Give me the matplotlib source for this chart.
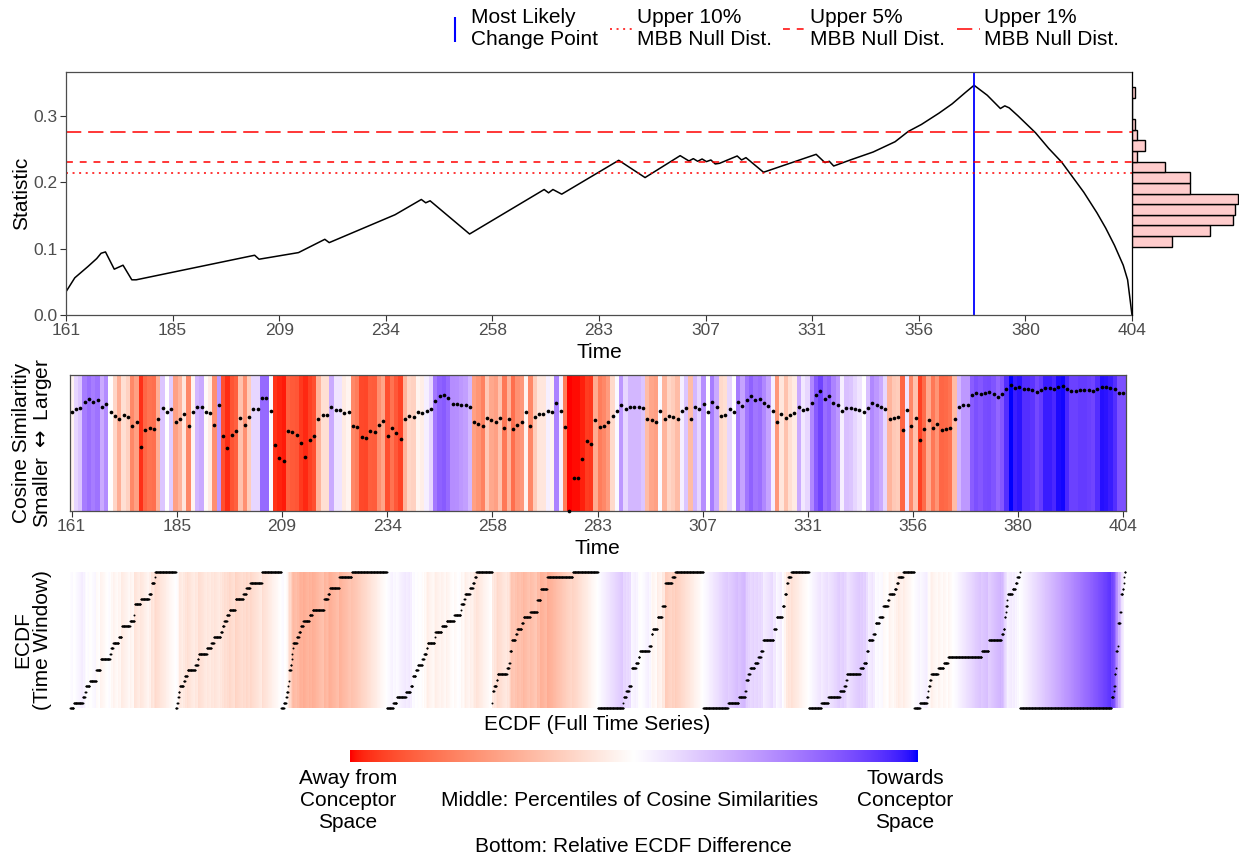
import numpy as np
import pandas as pd
import matplotlib
matplotlib.use("Agg")
import matplotlib.pyplot as plt
from matplotlib.colors import ListedColormap
from matplotlib.lines import Line2D

plt.rcParams['font.family'] = ['Liberation Sans', 'DejaVu Sans']

# ---- data ----
# change point statistic (breakpoints of the curve)
stat_time = [161, 163, 166, 168, 169, 170, 172, 174, 176, 177, 204, 205, 214, 220, 221,
             236, 242, 243, 244, 253, 270, 271, 272, 274, 287, 293, 301, 303, 304, 305,
             306, 307, 308, 309, 310, 314, 315, 316, 320, 332, 334, 335, 336, 340, 345,
             350, 353, 356, 360, 363, 366, 368, 371, 374, 375, 376, 378, 382, 385, 388,
             390, 393, 396, 398, 400, 402, 403, 404]
stat_value = [0.035, 0.056, 0.073, 0.085, 0.093, 0.095, 0.069, 0.075, 0.053, 0.053, 0.090,
              0.084, 0.094, 0.114, 0.109, 0.151, 0.174, 0.169, 0.172, 0.122, 0.189, 0.184,
              0.189, 0.182, 0.233, 0.207, 0.240, 0.232, 0.2355, 0.2315, 0.235, 0.231,
              0.2335, 0.2275, 0.2285, 0.2395, 0.2335, 0.237, 0.215, 0.242, 0.2295, 0.2315,
              0.2244, 0.234, 0.2455, 0.261, 0.2765, 0.287, 0.304, 0.318, 0.335, 0.346,
              0.331, 0.311, 0.315, 0.312, 0.300, 0.2745, 0.251, 0.230, 0.212, 0.185,
              0.154, 0.131, 0.105, 0.075, 0.053, 0.0]
change_point = 368
null_quantiles = [0.214, 0.230, 0.275]   # upper 10%, 5%, 1%

# MBB null distribution histogram
null_bin_edges = [0.103, 0.119, 0.135, 0.151, 0.167, 0.183, 0.199, 0.215, 0.231,
                  0.247, 0.263, 0.279, 0.295, 0.311, 0.327, 0.343]
null_counts = [16, 31, 40, 41, 42, 23, 23, 13, 2, 5, 2, 1, 0, 0, 1]

# cosine similarity per time step (relative scale), t = 161..404
times = np.arange(161, 405)
cos_sim = [
    0.727, 0.749, 0.757, 0.806, 0.823, 0.806, 0.821, 0.769, 0.791, 0.732,
    0.700, 0.676, 0.708, 0.695, 0.629, 0.658, 0.474, 0.597, 0.609, 0.607,
    0.676, 0.757, 0.732, 0.754, 0.658, 0.678, 0.713, 0.629, 0.727, 0.764,
    0.769, 0.730, 0.720, 0.631, 0.781, 0.553, 0.462, 0.558, 0.592, 0.683,
    0.634, 0.690, 0.749, 0.749, 0.830, 0.830, 0.737, 0.486, 0.388, 0.369,
    0.592, 0.580, 0.560, 0.499, 0.400, 0.523, 0.553, 0.678, 0.708, 0.708,
    0.769, 0.744, 0.744, 0.720, 0.727, 0.629, 0.617, 0.543, 0.536, 0.590,
    0.585, 0.631, 0.666, 0.553, 0.609, 0.572, 0.528, 0.678, 0.700, 0.695,
    0.727, 0.725, 0.740, 0.749, 0.811, 0.848, 0.855, 0.830, 0.789, 0.786,
    0.781, 0.779, 0.764, 0.658, 0.639, 0.627, 0.688, 0.671, 0.658, 0.683,
    0.614, 0.678, 0.607, 0.636, 0.654, 0.727, 0.629, 0.690, 0.713, 0.713,
    0.740, 0.727, 0.799, 0.740, 0.617, 0.002, 0.241, 0.241, 0.383, 0.518,
    0.496, 0.673, 0.617, 0.629, 0.656, 0.703, 0.737, 0.781, 0.749, 0.764,
    0.764, 0.764, 0.757, 0.681, 0.668, 0.658, 0.737, 0.678, 0.700, 0.690,
    0.681, 0.740, 0.757, 0.681, 0.764, 0.749, 0.786, 0.732, 0.806, 0.769,
    0.703, 0.708, 0.749, 0.732, 0.806, 0.776, 0.818, 0.848, 0.818, 0.823,
    0.794, 0.776, 0.740, 0.654, 0.713, 0.683, 0.708, 0.720, 0.769, 0.742,
    0.749, 0.794, 0.855, 0.885, 0.826, 0.848, 0.799, 0.781, 0.740, 0.762,
    0.757, 0.749, 0.744, 0.732, 0.762, 0.794, 0.781, 0.769, 0.749, 0.678,
    0.688, 0.690, 0.597, 0.744, 0.629, 0.683, 0.523, 0.604, 0.673, 0.614,
    0.639, 0.597, 0.602, 0.609, 0.681, 0.764, 0.781, 0.781, 0.853, 0.867,
    0.860, 0.872, 0.875, 0.862, 0.840, 0.860, 0.897, 0.926, 0.904, 0.912,
    0.897, 0.897, 0.894, 0.880, 0.892, 0.904, 0.904, 0.902, 0.916, 0.919,
    0.902, 0.887, 0.887, 0.892, 0.892, 0.889, 0.885, 0.897, 0.914, 0.912,
    0.904, 0.897, 0.867, 0.867]
n_windows = 10

tick_labels = [161, 185, 209, 234, 258, 283, 307, 331, 356, 380, 404]
tick_pos = np.linspace(161, 404, len(tick_labels))

legend_labels = ['Most Likely\nChange Point', 'Upper 10%\nMBB Null Dist.',
                 'Upper 5%\nMBB Null Dist.', 'Upper 1%\nMBB Null Dist.']


# red - white - blue, interpolated in Lab like ggplot's gradient2
M = np.array([[0.4124, 0.3576, 0.1805], [0.2126, 0.7152, 0.0722], [0.0193, 0.1192, 0.9505]])
WP = np.array([0.95047, 1.0, 1.08883])

def to_lab(rgb):
    c = np.asarray(rgb, float)
    lin = np.where(c <= 0.04045, c / 12.92, ((c + 0.055) / 1.055) ** 2.4)
    xyz = M @ lin / WP
    f = np.where(xyz > 0.008856, np.cbrt(xyz), 7.787 * xyz + 16 / 116)
    return np.array([116 * f[1] - 16, 500 * (f[0] - f[1]), 200 * (f[1] - f[2])])

def to_rgb(lab):
    fy = (lab[0] + 16) / 116
    f = np.array([fy + lab[1] / 500, fy, fy - lab[2] / 200])
    xyz = np.where(f ** 3 > 0.008856, f ** 3, (f - 16 / 116) / 7.787) * WP
    lin = np.clip(np.linalg.solve(M, xyz), 0, 1)
    return np.clip(np.where(lin <= 0.0031308, 12.92 * lin, 1.055 * lin ** (1 / 2.4) - 0.055), 0, 1)

red, white, blue = to_lab([1, 0, 0]), to_lab([1, 1, 1]), to_lab([0, 0, 1])
cols = []
for t in np.linspace(0, 1, 256):
    if t < 0.5:
        lab = red + (white - red) * (t / 0.5)
    else:
        lab = white + (blue - white) * ((t - 0.5) / 0.5)
    cols.append(to_rgb(lab))
cmap = ListedColormap(cols)

W, H = 1243, 857
def box(l, t, r, b):
    return [l / W, 1 - b / H, (r - l) / W, (b - t) / H]

def style(ax):
    for s in ax.spines.values():
        s.set_color('#4D4D4D')
        s.set_linewidth(0.9)
    ax.tick_params(direction='out', length=4, width=0.8, color='#333333',
                   labelcolor='#4D4D4D', labelsize=12.5, pad=2)

fig = plt.figure(figsize=(W / 100, H / 100), dpi=100)

# ---- top: statistic ----
ax1 = fig.add_axes(box(66, 72, 1132, 315))
ax1.plot(stat_time, stat_value, color='black', lw=1.1)
ax1.axvline(change_point, color='blue', lw=1.3)
styles = [(0, (1.3, 3)), (0, (4.5, 4.5)), (0, (10, 4.5))]
for q, ls in zip(null_quantiles, styles):
    ax1.axhline(q, color='red', lw=1.1, ls=ls)
ax1.set_xlim(161, 404)
ax1.set_ylim(0, 0.366)
ax1.set_xticks(tick_pos)
ax1.set_xticklabels(tick_labels)
ax1.set_yticks([0, 0.1, 0.2, 0.3])
ax1.set_yticklabels(['0.0', '0.1', '0.2', '0.3'])
ax1.set_ylabel('Statistic', fontsize=15, labelpad=2)
ax1.set_xlabel('Time', fontsize=15, labelpad=3)
style(ax1)

axh = fig.add_axes(box(1132, 72, 1239, 315))
axh.barh(null_bin_edges[:-1], null_counts, height=np.diff(null_bin_edges), align='edge',
         color='#FFCCCC', edgecolor='black', lw=1)
axh.set_xlim(0, 42.4)
axh.set_ylim(0, 0.366)
for s in ['top', 'right', 'bottom']:
    axh.spines[s].set_visible(False)
axh.spines['left'].set_color('black')
axh.set_xticks([])
axh.set_yticks([])
axh.patch.set_alpha(0)

# ---- middle: cosine similarity strip ----
vals = np.array(cos_sim)
n = len(vals)
pct = (pd.Series(vals).rank().to_numpy() - 1) / (n - 1)

ax2 = fig.add_axes(box(69.5, 375.3, 1125.5, 511))
ax2.pcolormesh(np.arange(160.5, 405), [0, 1], pct[None, :], cmap=cmap, vmin=0, vmax=1,
               shading='flat', antialiased=False)
ax2.scatter(times, vals, s=7, color='black', lw=0, zorder=3, clip_on=False)
ax2.set_xlim(160.5, 404.5)
ax2.set_ylim(0, 1)
ax2.set_xticks(tick_pos)
ax2.set_xticklabels(tick_labels)
ax2.set_yticks([])
ax2.set_xlabel('Time', fontsize=15, labelpad=3)
style(ax2)

# ---- bottom: window ECDF vs full ECDF ----
ax3 = fig.add_axes(box(70, 571.7, 1125, 708.3))
full_sorted = np.sort(vals)
x_grid = np.arange(1, n + 1) / n
x_edges = np.arange(0, n + 1) / n
for k, idx in enumerate(np.array_split(np.arange(n), n_windows)):
    w = np.sort(vals[idx])
    y = np.searchsorted(w, full_sorted, side='right') / len(w)
    diff = y - x_grid
    ax3.pcolormesh(k + x_edges, [0, 1], (0.5 - diff / 2)[None, :], cmap=cmap,
                   vmin=0, vmax=1, shading='flat', antialiased=False)
    ax3.scatter(k + x_grid, y, s=2, color='black', lw=0, zorder=3, clip_on=False)
ax3.set_xlim(0, n_windows)
ax3.set_ylim(0, 1)
ax3.axis('off')

# ---- colour bar ----
cax = fig.add_axes(box(350, 750, 918, 762))
cax.imshow(np.linspace(0, 1, 256)[None, :], cmap=cmap, aspect='auto', extent=[0, 1, 0, 1])
cax.axis('off')

def ftext(x, y, s, **kw):
    fig.text(x / W, 1 - y / H, s, ha='center', va='center', fontsize=15, **kw)

ftext(33, 443, 'Cosine Similaritiy\nSmaller $\\leftrightarrow$ Larger', rotation=90,
      linespacing=1.05, multialignment='center')
ftext(33, 640, 'ECDF\n(Time Window)', rotation=90, linespacing=1.05, multialignment='center')
ftext(597, 724, 'ECDF (Full Time Series)')
ftext(348, 801, 'Away from\nConceptor\nSpace', linespacing=1.2)
ftext(905, 801, 'Towards\nConceptor\nSpace', linespacing=1.2)
ftext(630, 801, 'Middle: Percentiles of Cosine Similarities')
ftext(633, 846, 'Bottom: Relative ECDF Difference')

# ---- legend ----
handles = [Line2D([], [], color='blue', marker='|', markersize=18, markeredgewidth=1.5, ls='None')]
handles += [Line2D([], [], color='red', lw=1.1, ls=ls) for ls in styles]
fig.legend(handles, legend_labels, ncol=4, loc='upper left', bbox_to_anchor=(444 / W, 1 - 8 / H),
           frameon=False, fontsize=15, handlelength=1.1, handletextpad=0.2, columnspacing=0.55,
           borderaxespad=0, borderpad=0, labelspacing=0)

fig.savefig('out.png', dpi=100)
